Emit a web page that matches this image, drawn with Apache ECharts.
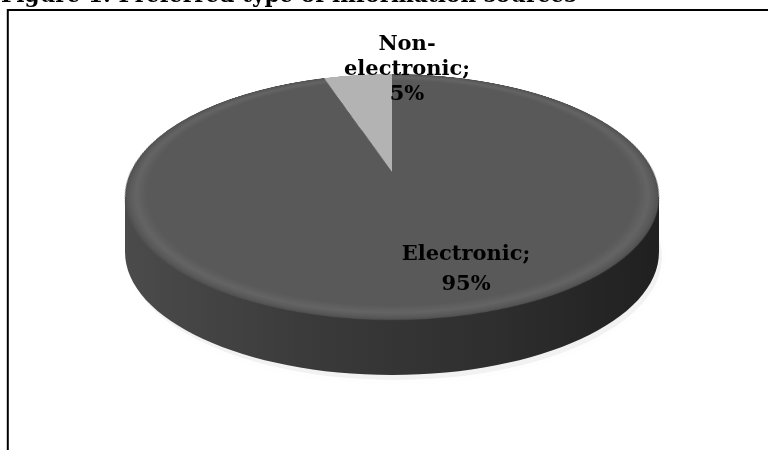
<!DOCTYPE html>
<html>
<head>
<meta charset="utf-8">
<script src="https://cdn.jsdelivr.net/npm/echarts@6/dist/echarts.min.js"></script>
<style>
  html, body { margin: 0; padding: 0; background: #fff; overflow: hidden; }
  #stage { position: relative; width: 768px; height: 450px; overflow: hidden; }
  #under, #over { position: absolute; left: 0; top: 0; width: 768px; height: 450px; }
  /* the disc is a flat pie tilted back in 3D so it reads as a cylinder top */
  #disc {
    position: absolute; left: 112px; top: -108px; width: 560px; height: 560px;
    transform-origin: 50% 50%;
    transform: perspective(1150px) rotateX(63.2deg);
  }
</style>
</head>
<body>
<div id="stage">
  <div id="under"></div>
  <div id="disc"></div>
  <div id="over"></div>
</div>
<script>
// Preferred type of information sources (percent of respondents)
const categories = ['Electronic', 'Non-electronic'];
const shares = [95, 5];
const sliceColors = ['#595959', '#b3b3b3'];
const titleText = 'Figure 1: Preferred type of information sources';

const SERIF = '"DejaVu Serif", "Liberation Serif", serif';

// geometry of the projected cylinder (screen pixels)
const topCx = 392, topCy = 197, rimRx = 267, rimRy = 123, depth = 55;

// ---- layer 1: frame, title, cylinder wall and its soft shadow ----
const under = echarts.init(document.getElementById('under'), null, { renderer: 'canvas' });
const wallFill = {
  type: 'linear', x: topCx - rimRx, y: 0, x2: topCx + rimRx, y2: 0, global: true,
  colorStops: [
    { offset: 0, color: '#4b4b4b' },
    { offset: 0.35, color: '#3a3a3a' },
    { offset: 0.7, color: '#2e2e2e' },
    { offset: 1, color: '#202020' }
  ]
};
under.setOption({
  animation: false,
  graphic: [
    {
      type: 'text', left: 1, top: -15,
      style: { text: titleText, font: 'bold 21.6px ' + SERIF, fill: '#000' }
    },
    { type: 'line', shape: { x1: 7, y1: 10, x2: 768, y2: 10 }, style: { stroke: '#000', lineWidth: 2 } },
    { type: 'line', shape: { x1: 7.8, y1: 9, x2: 7.8, y2: 450 }, style: { stroke: '#000', lineWidth: 2 } },
    {
      type: 'ellipse',
      shape: { cx: topCx + 3, cy: topCy + depth + 5, rx: rimRx, ry: rimRy },
      style: { fill: 'rgba(0,0,0,0.05)', shadowBlur: 20, shadowColor: 'rgba(0,0,0,0.22)' }
    },
    {
      type: 'ellipse',
      shape: { cx: topCx, cy: topCy + depth, rx: rimRx, ry: rimRy },
      style: { fill: wallFill }
    },
    {
      type: 'rect',
      shape: { x: topCx - rimRx, y: topCy, width: rimRx * 2, height: depth },
      style: { fill: wallFill }
    }
  ]
});

// ---- layer 2: the pie itself (top face of the cylinder) ----
const disc = echarts.init(document.getElementById('disc'), null, { renderer: 'canvas' });
const R = 261.5;
function faceFill(base, rim) {
  return {
    type: 'radial', x: 280, y: 280, r: R, global: true,
    colorStops: [
      { offset: 0, color: base },
      { offset: 0.92, color: base },
      { offset: 0.96, color: rim },
      { offset: 0.985, color: base },
      { offset: 1, color: '#4e4e4e' }
    ]
  };
}
disc.setOption({
  animation: false,
  series: [{
    type: 'pie',
    center: [280, 280],
    radius: [0, R],
    startAngle: 90,
    clockwise: true,
    silent: true,
    label: { show: false },
    labelLine: { show: false },
    emphasis: { disabled: true },
    data: categories.map((name, i) => ({
      name: name,
      value: shares[i],
      itemStyle: {
        color: i === 0 ? faceFill(sliceColors[0], '#646464') : sliceColors[i],
        borderWidth: 0
      }
    }))
  }]
});

// ---- layer 3: data labels ----
const over = echarts.init(document.getElementById('over'), null, { renderer: 'canvas' });
const labelText = [
  categories[0] + ';\n' + shares[0] + '%',
  'Non-\nelectronic;\n' + shares[1] + '%'
];
over.setOption({
  animation: false,
  graphic: [
    {
      type: 'text', x: 466, y: 270,
      style: {
        text: labelText[0], font: 'bold 21px ' + SERIF, fill: '#000',
        align: 'center', verticalAlign: 'middle', lineHeight: 30
      }
    },
    {
      type: 'text', x: 407, y: 70,
      style: {
        text: labelText[1], font: 'bold 21px ' + SERIF, fill: '#000',
        align: 'center', verticalAlign: 'middle', lineHeight: 25
      }
    }
  ]
});
</script>
</body>
</html>
